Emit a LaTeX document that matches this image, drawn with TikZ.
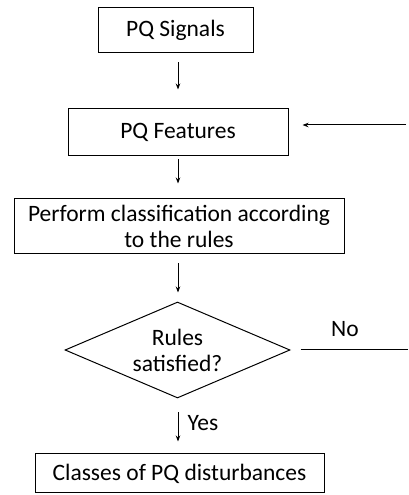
\documentclass[tikz,border=0pt]{standalone}
\usepackage{fontspec}
\setmainfont{Carlito}
\usetikzlibrary{shapes.geometric,arrows.meta}
\begin{document}
\begin{tikzpicture}[x=1pt,y=1pt,
  box/.style={draw,line width=1pt,rectangle,inner sep=0pt,align=center,font=\fontsize{23.5}{26}\selectfont},
  dia/.style={draw,line width=1pt,diamond,inner sep=0pt,align=center,font=\fontsize{23.5}{26}\selectfont},
  arr/.style={line width=1pt,-{Stealth[length=6pt,width=4.5pt]}},
  lbl/.style={font=\fontsize{23.5}{26}\selectfont,inner sep=0pt}]
\useasboundingbox (0,0) rectangle (408,495);
\node[box,minimum width=155,minimum height=45] (sig) at (175.5,464.5) {PQ Signals};
\node[box,minimum width=220,minimum height=47] (feat) at (178,362.5) {PQ Features};
\node[box,minimum width=330,minimum height=55] (perf) at (179,268.5) {Perform classification according\\to the rules};
\node[dia,minimum width=225,minimum height=96] (dec) at (177.5,145) {};
\node[lbl,align=center] (dect) at (177.5,145) {Rules\\satisfied?};
\node[box,minimum width=289,minimum height=39] (cls) at (179.5,21.5) {Classes of PQ disturbances};
\coordinate (xcol) at (178,0);
\coordinate (fb) at (406,370);
\coordinate (noend) at (408,145);
\draw[arr,shorten <=9,shorten >=19] (sig.south -| xcol) -- (feat.north -| xcol);
\draw[arr,shorten <=3,shorten >=15] (feat.south -| xcol) -- (perf.north -| xcol);
\draw[arr,shorten <=9,shorten >=9] (perf.south -| xcol) -- (dec.north -| xcol);
\draw[arr,shorten <=14,shorten >=12] (dec.south -| xcol) -- (cls.north -| xcol);
\draw[arr,shorten >=14] (fb) -- (fb -| feat.east);
\draw[line width=1pt,shorten <=10] (dec.east) -- (noend);
\node[lbl] (no) at (345,166) {No};
\node[lbl] (yes) at (203,72) {Yes};
\end{tikzpicture}
\end{document}
